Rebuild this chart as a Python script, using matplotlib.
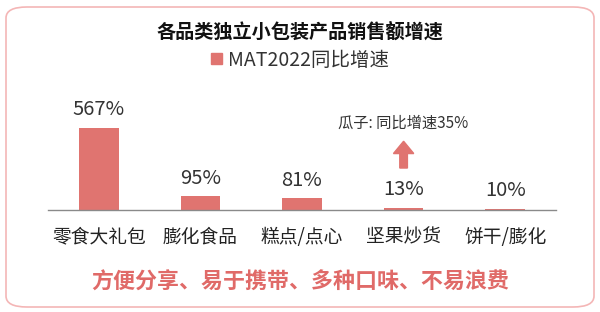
import matplotlib
matplotlib.use("Agg")
import matplotlib.pyplot as plt
from matplotlib.patches import FancyBboxPatch, Patch

plt.rcParams['font.family'] = ['Noto Sans CJK SC', 'DejaVu Sans']

TITLE = "各品类独立小包装产品销售额增速"
SERIES = "MAT2022同比增速"
categories = ["零食大礼包", "膨化食品", "糕点/点心", "坚果炒货", "饼干/膨化"]
growth = [567, 95, 81, 13, 10]
note = "瓜子: 同比增速35%"
footer = "方便分享、易于携带、多种口味、不易浪费"

BAR = "#e07470"
W, H = 600, 312

fig = plt.figure(figsize=(W / 100, H / 100), dpi=100)
fig.patch.set_facecolor("white")

# rounded pink frame
frame = FancyBboxPatch((6 / W, 5 / H), 588 / W, 300 / H,
                       boxstyle="round,pad=0,rounding_size=0.035",
                       transform=fig.transFigure, facecolor="none",
                       edgecolor="#f4b6b6", lw=1.2, zorder=-1)
fig.patches.append(frame)

# axes: baseline at y=210px, spans x 48..556px
ax = fig.add_axes([48 / W, 1 - 210 / H, 508 / W, 110 / H])
ax.patch.set_alpha(0)
x = range(len(categories))
ax.bar(x, growth, width=0.39, color=BAR, zorder=2)
ax.set_xlim(-0.5, len(categories) - 0.5)
ax.set_ylim(0, 760)

for xi, v in zip(x, growth):
    ax.annotate(f"{v}%", (xi, v), xytext=(0, 5.5), textcoords="offset points",
                ha="center", va="bottom", fontsize=14.5, color="#333333")

ax.set_xticks(list(x))
ax.set_xticklabels(categories, fontsize=13.5, color="#222222")
ax.tick_params(axis="x", length=0, pad=12)
ax.set_yticks([])
for s in ("top", "right", "left"):
    ax.spines[s].set_visible(False)
ax.spines["bottom"].set_color("#8a8a8a")
ax.spines["bottom"].set_linewidth(1.0)

# 瓜子 arrow + note above 坚果炒货
ax.arrow(3, 290, 0, 185, width=0.075, head_width=0.2, head_length=85,
         length_includes_head=True, color=BAR, zorder=3)
ax.text(3, 600, note, ha="center", va="center", fontsize=11, color="#333333")

fig.text(0.5, 1 - 32 / H, TITLE, ha="center", va="center",
         fontsize=13.8, fontweight="bold", color="#111111")
fig.legend(handles=[Patch(facecolor=BAR, edgecolor=BAR, label=SERIES)],
           loc="center", bbox_to_anchor=(0.5, 1 - 60 / H), frameon=False,
           handlelength=0.55, handleheight=0.55, handletextpad=0.3,
           fontsize=14, labelcolor="#333333")
fig.text(0.5, 1 - 282 / H, footer, ha="center", va="center",
         fontsize=15.8, fontweight="bold", color="#e06a68")

fig.savefig("out.png", dpi=100)
